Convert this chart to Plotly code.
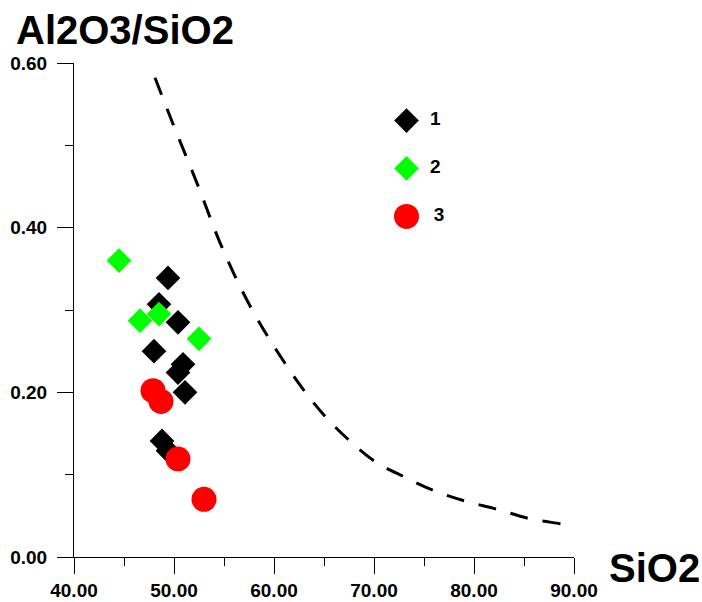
import plotly.graph_objects as go

# Group 1 (black diamonds)
g1_sio2 = [49.4, 48.5, 50.4, 48.0, 50.9, 50.4, 51.1, 48.8, 49.4]
g1_ratio = [0.339, 0.307, 0.285, 0.250, 0.234, 0.224, 0.200, 0.141, 0.129]

# Group 2 (green diamonds)
g2_sio2 = [44.5, 46.6, 48.5, 52.5]
g2_ratio = [0.360, 0.287, 0.295, 0.265]

# Group 3 (red circles)
g3_sio2 = [47.9, 48.7, 50.4, 53.0]
g3_ratio = [0.202, 0.189, 0.119, 0.070]

# Dashed boundary curve
curve_sio2 = [48.1, 49.9, 52.4, 54.8, 57.6, 60.2, 62.9, 65.1, 67.4, 70.1,
              72.9, 75.9, 79.1, 82.3, 85.4, 88.8, 89.6]
curve_ratio = [0.582, 0.526, 0.451, 0.376, 0.305, 0.252, 0.204, 0.171, 0.143,
               0.116, 0.098, 0.081, 0.068, 0.058, 0.047, 0.040, 0.038]

legend_names = ["1", "2", "3"]
legend_symbols = ["diamond", "diamond", "circle"]
legend_colors = ["#000000", "#00ff00", "#ff0000"]
legend_sizes = [19, 19, 25]

FONT = "Liberation Sans"

fig = go.Figure()

fig.add_trace(go.Scatter(
    x=curve_sio2, y=curve_ratio, mode="lines",
    line=dict(color="black", width=3, dash="18px,15px", shape="spline"),
    hoverinfo="skip",
))

for xs, ys, sym, col, size in [
    (g1_sio2, g1_ratio, "diamond", "#000000", 19),
    (g2_sio2, g2_ratio, "diamond", "#00ff00", 19),
    (g3_sio2, g3_ratio, "circle", "#ff0000", 25),
]:
    fig.add_trace(go.Scatter(
        x=xs, y=ys, mode="markers",
        marker=dict(symbol=sym, color=col, size=size, opacity=1,
                    line=dict(width=0)),
        cliponaxis=False,
    ))

# Key drawn on its own small axis pair
fig.add_trace(go.Scatter(
    x=[0] * len(legend_names), y=legend_names,
    xaxis="x2", yaxis="y2", mode="markers+text",
    text=["  " + n for n in legend_names],
    textposition="middle right",
    textfont=dict(family=FONT, size=19, color="black", weight="bold"),
    marker=dict(symbol=legend_symbols, color=legend_colors, size=legend_sizes,
                opacity=1, line=dict(width=0)),
    cliponaxis=False,
))

tickfont = dict(family=FONT, size=19, color="black", weight="bold")

fig.update_layout(
    width=702, height=602,
    margin=dict(l=74, r=128, t=63, b=45),
    paper_bgcolor="white", plot_bgcolor="white",
    showlegend=False,
    xaxis=dict(
        range=[40, 90], tick0=40, dtick=10, tickformat=".2f",
        ticks="outside", ticklen=16, tickwidth=1, tickcolor="black",
        showline=True, linecolor="black", linewidth=1, automargin=False,
        showgrid=False, zeroline=False, tickfont=tickfont,
        minor=dict(dtick=5, ticklen=8, ticks="outside", tickcolor="black",
                   tickwidth=1, showgrid=False),
    ),
    yaxis=dict(
        range=[0, 0.6], tick0=0, dtick=0.2, tickformat=".2f",
        ticks="outside", ticklen=16, tickwidth=1, tickcolor="black",
        showline=True, linecolor="black", linewidth=1, automargin=False,
        showgrid=False, zeroline=False, tickfont=tickfont,
        ticklabelstandoff=6,
        minor=dict(dtick=0.1, ticklen=8, ticks="outside", tickcolor="black",
                   tickwidth=1, showgrid=False),
    ),
    xaxis2=dict(domain=[0.665, 0.8], range=[0, 1], anchor="y2",
                visible=False, fixedrange=True),
    yaxis2=dict(domain=[0.641, 0.932], range=[2.5, -0.5], anchor="x2",
                type="category", visible=False, fixedrange=True),
    annotations=[
        dict(text="Al2O3/SiO2", xref="paper", yref="paper",
             x=-0.12, y=1.067, xanchor="left", yanchor="middle",
             showarrow=False,
             font=dict(family=FONT, size=40, color="black", weight="bold")),
        dict(text="SiO2", xref="paper", yref="paper",
             x=1.066, y=-0.022, xanchor="left", yanchor="middle",
             showarrow=False,
             font=dict(family=FONT, size=40, color="black", weight="bold")),
    ],
)

fig.write_html("out.html")
